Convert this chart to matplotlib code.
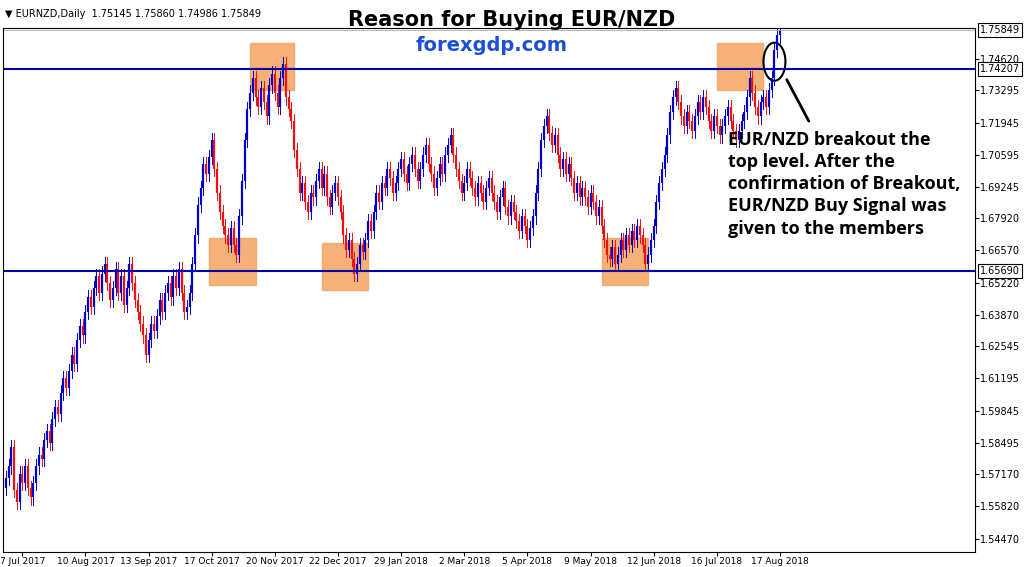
import matplotlib.pyplot as plt
from matplotlib.patches import Rectangle, Ellipse
import numpy as np

closes = [1.570,1.575,1.583,1.565,1.560,1.572,1.568,1.575,1.566,1.562,
          1.568,1.575,1.580,1.578,1.586,1.590,1.585,1.595,1.600,1.597,
          1.606,1.612,1.608,1.615,1.622,1.618,1.628,1.634,1.630,1.640,
          1.646,1.642,1.650,1.655,1.648,1.656,1.660,1.652,1.645,1.650,
          1.658,1.648,1.655,1.643,1.650,1.660,1.652,1.645,1.640,1.635,
          1.630,1.622,1.628,1.635,1.632,1.638,1.645,1.640,1.648,1.652,
          1.646,1.655,1.650,1.658,1.648,1.640,1.642,1.648,1.660,1.672,
          1.685,1.692,1.702,1.698,1.705,1.712,1.700,1.690,1.682,1.676,
          1.672,1.668,1.675,1.668,1.664,1.680,1.695,1.712,1.725,1.732,
          1.738,1.730,1.726,1.734,1.728,1.722,1.735,1.740,1.732,1.726,
          1.738,1.744,1.730,1.725,1.720,1.708,1.700,1.690,1.694,1.686,
          1.682,1.690,1.688,1.695,1.700,1.692,1.698,1.688,1.684,1.690,
          1.694,1.688,1.682,1.672,1.666,1.670,1.662,1.656,1.660,1.668,
          1.665,1.670,1.678,1.674,1.682,1.690,1.686,1.694,1.692,1.700,
          1.696,1.690,1.694,1.700,1.704,1.698,1.694,1.702,1.706,1.700,
          1.695,1.700,1.706,1.710,1.702,1.698,1.692,1.696,1.702,1.698,
          1.706,1.710,1.714,1.706,1.700,1.695,1.690,1.694,1.700,1.696,
          1.692,1.688,1.694,1.690,1.686,1.692,1.696,1.690,1.686,1.682,
          1.688,1.692,1.684,1.680,1.686,1.682,1.678,1.674,1.680,1.676,
          1.670,1.675,1.680,1.690,1.700,1.712,1.718,1.722,1.715,1.710,
          1.714,1.706,1.700,1.704,1.698,1.702,1.696,1.690,1.694,1.688,
          1.692,1.688,1.684,1.690,1.686,1.680,1.684,1.676,1.670,1.664,
          1.662,1.667,1.660,1.664,1.670,1.666,1.672,1.668,1.674,1.670,
          1.676,1.672,1.668,1.660,1.664,1.670,1.676,1.686,1.694,1.700,
          1.706,1.714,1.724,1.730,1.734,1.728,1.722,1.718,1.724,1.720,
          1.716,1.722,1.728,1.724,1.730,1.726,1.720,1.716,1.722,1.718,
          1.714,1.718,1.722,1.726,1.720,1.716,1.712,1.716,1.720,1.724,
          1.730,1.738,1.732,1.726,1.722,1.728,1.730,1.726,1.733,1.738,
          1.750,1.756,1.7585]
first_open = 1.566
wick = 0.003

date_labels = ['7 Jul 2017', '10 Aug 2017', '13 Sep 2017', '17 Oct 2017', '20 Nov 2017',
               '22 Dec 2017', '29 Jan 2018', '2 Mar 2018', '5 Apr 2018', '9 May 2018',
               '12 Jun 2018', '16 Jul 2018', '17 Aug 2018']
price_ticks = [1.54470, 1.55820, 1.57170, 1.58495, 1.59845, 1.61195, 1.62545, 1.63870,
               1.65220, 1.66570, 1.67920, 1.69245, 1.70595, 1.71945, 1.73295, 1.74620]
resistance = 1.74207
support = 1.65690
last_price = 1.75849

# boxes: (start idx, end idx, low, high)
boxes = [(74, 91, 1.651, 1.671), (89, 105, 1.733, 1.753), (115, 132, 1.649, 1.669),
         (217, 234, 1.651, 1.671), (259, 276, 1.733, 1.753)]

opens = [first_open] + closes[:-1]

fig = plt.figure(figsize=(10.24, 5.67), dpi=100)
ax = fig.add_axes([0.003, 0.027, 0.949, 0.923])

for i, (o, c) in enumerate(zip(opens, closes)):
    col = '#0000cc' if c >= o else '#ee1111'
    ax.plot([i, i], [min(o, c) - wick, max(o, c) + wick], color=col, lw=0.7)
    ax.plot([i, i], [o, c], color=col, lw=1.6, solid_capstyle='butt')

for x0, x1, lo, hi in boxes:
    ax.add_patch(Rectangle((x0, lo), x1 - x0, hi - lo, color='#f4a460', alpha=0.85, zorder=0))

ax.axhline(resistance, color='#0000aa', lw=1.5)
ax.axhline(support, color='#0000aa', lw=1.5)
ax.axhline(last_price, color='#aaaaaa', lw=0.6)

ax.add_patch(Ellipse((280, 1.7450), 8, 0.016, fill=False, color='black', lw=1.5))
ax.annotate('', xy=(293, 1.7190), xytext=(284, 1.7385),
            arrowprops=dict(arrowstyle='-', color='black', lw=2))
ax.text(263, 1.7160, 'EUR/NZD breakout the\ntop level. After the\nconfirmation of Breakout,\nEUR/NZD Buy Signal was\ngiven to the members',
        fontsize=13, fontweight='bold', va='top', linespacing=1.3, family='Open Sans')

ax.set_xlim(-1, 353)
ax.set_ylim(1.5392, 1.7590)
ax.set_xticks(range(6, 6 + 23 * len(date_labels), 23))
ax.set_xticklabels(date_labels, fontsize=6.5)
ax.yaxis.tick_right()
ax.set_yticks(price_ticks)
ax.set_yticklabels(['%.5f' % p for p in price_ticks], fontsize=7)
ax.tick_params(length=3, pad=1)
ax.tick_params(axis='x', pad=1)

for p in (resistance, support, last_price):
    ax.text(1.005, p, '%.5f' % p, transform=ax.get_yaxis_transform(), fontsize=7, va='center',
            bbox=dict(facecolor='white', edgecolor='black', pad=1.5, lw=0.8))

fig.text(0.005, 0.985, '\u25bc EURNZD,Daily  1.75145 1.75860 1.74986 1.75849', fontsize=7, va='top')
fig.text(0.5, 0.965, 'Reason for Buying EUR/NZD', fontsize=15, fontweight='bold', ha='center', va='center')
fig.text(0.48, 0.92, 'forexgdp.com', fontsize=14, fontweight='bold', color='#1a4fd6', ha='center', va='center')

fig.savefig('out.png', dpi=100)
